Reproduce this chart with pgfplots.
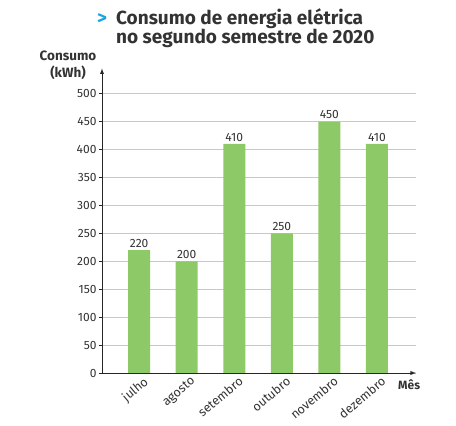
\documentclass[border=0pt]{standalone}
\usepackage{fontspec}
\setmainfont{Fira Sans}
\usepackage{pgfplots}
\pgfplotsset{compat=1.18}
\definecolor{bargreen}{HTML}{8DC966}
\definecolor{txt}{HTML}{333333}
\definecolor{gridc}{HTML}{C8C8C8}
\definecolor{arrowblue}{HTML}{1BA3E0}
\begin{document}
\begin{tikzpicture}[x=1pt,y=1pt]
\useasboundingbox (-102,-53) rectangle (354,373);
\begin{axis}[
  at={(0,0)}, anchor=south west,
  scale only axis,
  width=314pt, height=304.5pt,
  xmin=-0.78, xmax=5.82,
  ymin=0, ymax=545,
  axis lines=left,
  axis line style={line width=0.9pt, color=black!85, -latex},
  ytick={0,50,...,500},
  xtick={0,1,2,3,4,5},
  xticklabels={julho,agosto,setembro,outubro,novembro,dezembro},
  x tick label style={rotate=40, anchor=north east, font=\fontsize{12.5}{13}\selectfont, text=txt, inner sep=1pt, xshift=4pt, yshift=-1pt},
  y tick label style={font=\fontsize{12}{13}\selectfont, text=txt, xshift=1pt},
  /pgf/number format/assume math mode=true,
  major x tick style={draw=none},
  major y tick style={line width=0.6pt, color=black!85},
  tick align=outside,
  major tick length=3pt,
  ymajorgrids,
  grid style={gridc, line width=0.6pt},
  clip=false,
  bar width=22pt,
  nodes near coords,
  every node near coord/.append style={font=\fontsize{12}{13}\selectfont, text=txt, yshift=-1pt},
]
\addplot[ybar, fill=bargreen, draw=none] coordinates {(0,220) (1,200) (2,410) (3,250) (4,450) (5,410)};
\end{axis}
\node[anchor=base west, font=\fontsize{19}{20}\selectfont\bfseries, text=arrowblue, inner sep=0pt] at (-5,348) {>};
\node[anchor=base west, font=\fontsize{19}{20}\selectfont\bfseries, text=txt, inner sep=0pt] at (14,348) {Consumo de energia elétrica};
\node[anchor=base west, font=\fontsize{19}{20}\selectfont\bfseries, text=txt, inner sep=0pt] at (14,329.5) {no segundo semestre de 2020};
\node[anchor=base, font=\fontsize{13.5}{14}\selectfont\bfseries, text=txt, inner sep=0pt] at (-34,312) {Consumo};
\node[anchor=base, font=\fontsize{13.5}{14}\selectfont\bfseries, text=txt, inner sep=0pt] at (-34,295) {(kWh)};
\node[anchor=base west, font=\fontsize{12}{13}\selectfont\bfseries, text=txt, inner sep=0pt] at (296,-17) {Mês};
\end{tikzpicture}
\end{document}
